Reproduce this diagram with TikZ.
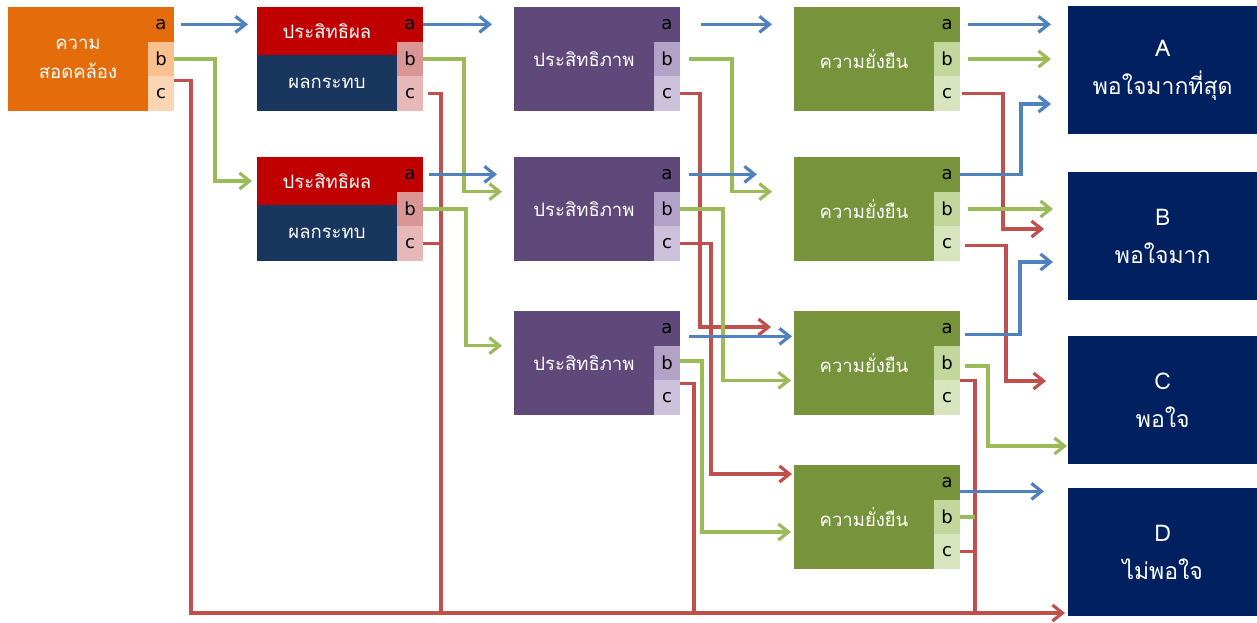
\documentclass[tikz,border=0pt]{standalone}
\usepackage{fontspec}
\newfontfamily\thaifont[Script=Thai]{Loma}
\newfontfamily\cellfont{DejaVu Sans}
\usetikzlibrary{positioning,calc,arrows.meta}

\definecolor{orMain}{RGB}{228,108,10}
\definecolor{orB}{RGB}{250,192,144}
\definecolor{orC}{RGB}{252,213,181}
\definecolor{efRed}{RGB}{192,0,0}
\definecolor{efNavy}{RGB}{24,54,94}
\definecolor{efB}{RGB}{217,150,148}
\definecolor{efC}{RGB}{230,185,184}
\definecolor{epMain}{RGB}{95,73,122}
\definecolor{epB}{RGB}{179,162,199}
\definecolor{epC}{RGB}{204,193,218}
\definecolor{suMain}{RGB}{119,147,60}
\definecolor{suB}{RGB}{195,214,155}
\definecolor{suC}{RGB}{215,228,189}
\definecolor{outNavy}{RGB}{0,32,96}
\definecolor{lnBlue}{RGB}{79,129,189}
\definecolor{lnGreen}{RGB}{155,187,89}
\definecolor{lnRed}{RGB}{192,80,77}

\tikzset{
  mainbox/.style={anchor=north west, minimum width=140pt, minimum height=104pt,
    inner sep=0pt, outer sep=0pt, text=white, align=center,
    font=\thaifont\fontsize{18.5}{29}\selectfont},
  halfbox/.style={mainbox, minimum height=#1},
  cell/.style={minimum width=26pt, minimum height=34.67pt, inner sep=0pt,
    outer sep=0pt, text=black, font=\cellfont\fontsize{18}{18}\selectfont},
  outbox/.style={anchor=north west, fill=outNavy, minimum width=189pt,
    minimum height=128pt, inner sep=0pt, text=white, align=center,
    font=\thaifont\fontsize{23}{38}\selectfont},
  wire/.style={line width=3.2pt},
  link/.style={wire, -{Straight Barb[length=10pt,width=16pt]}},
  bline/.style={link, lnBlue},
  gline/.style={link, lnGreen},
  rline/.style={link, lnRed},
  gwire/.style={wire, lnGreen},
  rwire/.style={wire, lnRed}
}

\begin{document}
\begin{tikzpicture}[x=1pt, y=-1pt]
    \useasboundingbox (0,0) rectangle (1257,623);

    % Congruence
    \node[mainbox, fill=orMain] (or) at (8,7) {ความ\\สอดคล้อง};
    \node[cell, fill=orMain, anchor=north west] (or-a) at (or.north east) {a};
    \node[cell, fill=orB, below=0pt of or-a] (or-b) {b};
    \node[cell, fill=orC, below=0pt of or-b] (or-c) {c};

    % Effectiveness + impact
    \foreach \n/\y in {1/7,2/157}{
        \node[halfbox=48pt, fill=efRed] (e\n) at (257,\y) {ประสิทธิผล};
        \node[halfbox=56pt, fill=efNavy, below=0pt of e\n] (e\n n) {ผลกระทบ};
        \node[cell, fill=efRed, anchor=north west] (e\n-a) at (e\n.north east) {a};
        \node[cell, fill=efB, below=0pt of e\n-a] (e\n-b) {b};
        \node[cell, fill=efC, below=0pt of e\n-b] (e\n-c) {c};
    }

    % Efficiency
    \foreach \n/\y in {1/7,2/157,3/311}{
        \node[mainbox, fill=epMain] (p\n) at (514,\y) {ประสิทธิภาพ};
        \node[cell, fill=epMain, anchor=north west] (p\n-a) at (p\n.north east) {a};
        \node[cell, fill=epB, below=0pt of p\n-a] (p\n-b) {b};
        \node[cell, fill=epC, below=0pt of p\n-b] (p\n-c) {c};
    }

    % Sustainability
    \foreach \n/\y in {1/7,2/157,3/311,4/465}{
        \node[mainbox, fill=suMain] (s\n) at (794,\y) {ความยั่งยืน};
        \node[cell, fill=suMain, anchor=north west] (s\n-a) at (s\n.north east) {a};
        \node[cell, fill=suB, below=0pt of s\n-a] (s\n-b) {b};
        \node[cell, fill=suC, below=0pt of s\n-b] (s\n-c) {c};
    }

    % Results
    \node[outbox] (oA) at (1068,6) {A\\พอใจมากที่สุด};
    \node[outbox] (oB) at (1068,172) {B\\พอใจมาก};
    \node[outbox] (oC) at (1068,336) {C\\พอใจ};
    \node[outbox] (oD) at (1068,488) {D\\ไม่พอใจ};
    \coordinate (bus) at (0,613);

    % Congruence -> effectiveness
    \draw[bline, shorten <=7pt, shorten >=9pt] (or-a.east) -- (or-a.east -| e1.west);
    \draw[gline, shorten >=5pt] (or-b.east) -- ++(41,0) |- (e2.west);
    \draw[rline, shorten >=3pt] ($(or-c.north east)+(0,4)$) -- ++(17,0) |- (oD.west |- bus);

    % Effectiveness -> efficiency
    \draw[bline, shorten >=22pt] (e1-a.east) -- (e1-a.east -| p1.west);
    \draw[gline, shorten >=12pt] (e1-b.east) -- ++(41,0) |- (p2.west |- p2-b.north);
    \draw[rwire] ($(e1-c.east)+(5,0)$) -- ++(13,0) coordinate (e1-drop) -- (e1-drop |- bus);
    \draw[bline, shorten <=6pt, shorten >=17pt] (e2-a.east) -- (e2-a.east -| p2.west);
    \draw[gline, shorten >=12pt] (e2-b.east) -- ++(43,0) |- (p3.west |- p3-b.north);
    \draw[rwire] (e2-c.east) -- ++(18,0);

    % Efficiency -> sustainability
    \draw[bline, shorten <=21pt, shorten >=22pt] (p1-a.east) -- (p1-a.east -| s1.west);
    \draw[gline, shorten <=9pt, shorten >=22pt] (p1-b.east) -- ++(52,0) |- (s2.west |- s2-b.north);
    \draw[rline, shorten >=23pt] (p1-c.east) -- ++(20,0) |- ($(s3.north west)+(0,16)$);
    \draw[bline, shorten <=9pt, shorten >=37pt] (p2-a.east) -- (p2-a.east -| s2.west);
    \draw[gline, shorten >=3pt] (p2-b.east) -- ++(43,0) |- (s3.west |- s3-b.south);
    \draw[rline, shorten >=2pt] (p2-c.east) -- ++(31,0) |- ($(s4.north west)+(0,9)$);
    \draw[bline, shorten >=2pt] ($(p3-a.east)+(9,8)$) -- ($(p3-a.east -| s3.west)+(0,8)$);
    \draw[gline, shorten >=3pt] ($(p3-b.east)+(0,-2)$) -- ++(22,0) |- ($(s4.north west)+(0,67)$);
    \draw[rwire] ($(p3-c.north east)+(0,3)$) -- ++(14,0) coordinate (p3-drop) -- (p3-drop |- bus);

    % Sustainability -> results
    \draw[bline, shorten <=8pt, shorten >=17pt] (s1-a.east) -- (s1-a.east -| oA.west);
    \draw[gline, shorten <=8pt, shorten >=17pt] (s1-b.east) -- (s1-b.east -| oA.west);
    \draw[rline, shorten >=24pt] ($(s1-c.east)+(2,0)$) -- ++(41,0) |- ($(oB.north west)+(0,57)$);
    \draw[bline, shorten >=17pt] (s2-a.east) -- ++(61,0) |- ($(oA.north west)+(0,98)$);
    \draw[gline, shorten <=8pt, shorten >=15pt] (s2-b.east) -- (s2-b.east -| oB.west);
    \draw[rline, shorten >=22pt] ($(s2-c.east)+(5,2)$) -- ++(41,0) |- ($(oC.north west)+(0,45)$);
    \draw[bline, shorten >=15pt] ($(s3-a.east)+(5,6)$) -- ++(55,0) |- ($(oB.north west)+(0,90)$);
    \draw[gline, shorten >=1pt] ($(s3-b.east)+(5,3)$) -- ++(23,0) |- ($(oC.north west)+(0,110)$);
    \draw[rwire] (s3-b.south east) -- ++(15,0) coordinate (s3-drop) -- (s3-drop |- bus);
    \draw[bline, shorten >=24pt] ($(s4-a.east)+(0,9)$) -- ($(s4-a.east -| oD.west)+(0,9)$);
    \draw[gwire] (s4-b.east) -- ++(15,0);
    \draw[rwire] (s4-c.east) -- ++(15,0);

\end{tikzpicture}
\end{document}
